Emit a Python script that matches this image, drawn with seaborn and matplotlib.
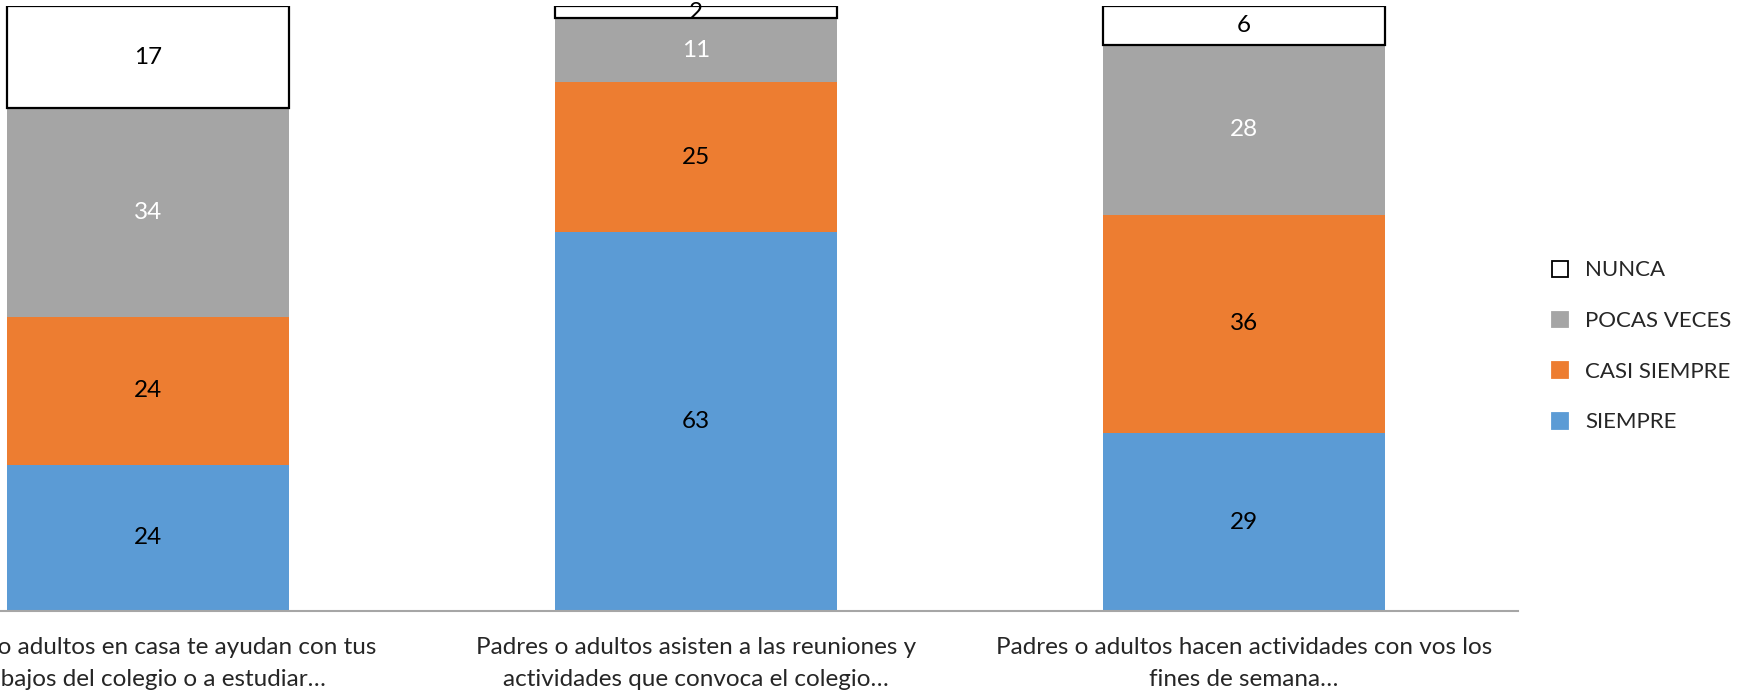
import matplotlib.pyplot as plt
import seaborn as sns
import pandas as pd
from matplotlib.patches import Patch

# categories (x axis), two-line labels as in the source chart
questions = [
    "Padres o adultos en casa te ayudan con tus\ntrabajos del colegio o a estudiar…",
    "Padres o adultos asisten a las reuniones y\nactividades que convoca el colegio…",
    "Padres o adultos hacen actividades con vos los\nfines de semana…",
]

# percentages per answer (labels show them rounded)
siempre = [24.2, 62.6, 29.4]
casi_siempre = [24.4, 24.8, 36.1]
pocas_veces = [34.5, 10.6, 28.1]
nunca = [16.9, 2.0, 6.4]

series_names = ["SIEMPRE", "CASI SIEMPRE", "POCAS VECES", "NUNCA"]
series_values = [siempre, casi_siempre, pocas_veces, nunca]
fills = ["#5B9BD5", "#ED7D31", "#A5A5A5", "#FFFFFF"]
label_colors = ["black", "black", "white", "black"]

sns.set_style("white")
plt.rcParams["font.family"] = ["Lato", "DejaVu Sans"]

fig = plt.figure(figsize=(17.42, 6.93), dpi=100)
# left edge is cropped in the reference, so the axes start off-canvas
ax = fig.add_axes([-0.0723, 0.1183, 0.9437, 0.873])

bottom = [0.0, 0.0, 0.0]
for name, vals, fill, lc in zip(series_names, series_values, fills, label_colors):
    df = pd.DataFrame({"pregunta": questions, "valor": vals})
    edge = "black" if fill == "#FFFFFF" else fill
    lw = 1.6 if fill == "#FFFFFF" else 0
    sns.barplot(data=df, x="pregunta", y="valor", order=questions,
                color=fill, saturation=1, width=0.514, bottom=bottom,
                edgecolor=edge, linewidth=lw, ax=ax, errorbar=None)
    ax.bar_label(ax.containers[-1], labels=[f"{v:.0f}" for v in vals],
                 label_type="center", color=lc, fontsize=17.5)
    bottom = [b + v for b, v in zip(bottom, vals)]

ax.set_xlim(-0.5, 2.5)
ax.set_ylim(0, 100)
ax.set_xlabel("")
ax.set_ylabel("")
ax.set_yticks([])
ax.tick_params(axis="x", length=0, pad=19, labelsize=17.5)
for t in ax.get_xticklabels():
    t.set_linespacing(1.65)
for s in ["top", "left", "right"]:
    ax.spines[s].set_visible(False)
ax.spines["bottom"].set_color("#A6A6A6")
ax.spines["bottom"].set_linewidth(1.5)

handles = [Patch(facecolor=f, edgecolor=("black" if f == "#FFFFFF" else f), linewidth=1.3)
           for f in fills[::-1]]
fig.legend(handles, series_names[::-1], loc="center left",
           bbox_to_anchor=(0.891, 0.50), frameon=False, fontsize=16,
           handlelength=0.7, handleheight=0.7, handletextpad=0.8,
           labelspacing=1.38, borderpad=0, borderaxespad=0)

fig.savefig("out.png", dpi=100)
